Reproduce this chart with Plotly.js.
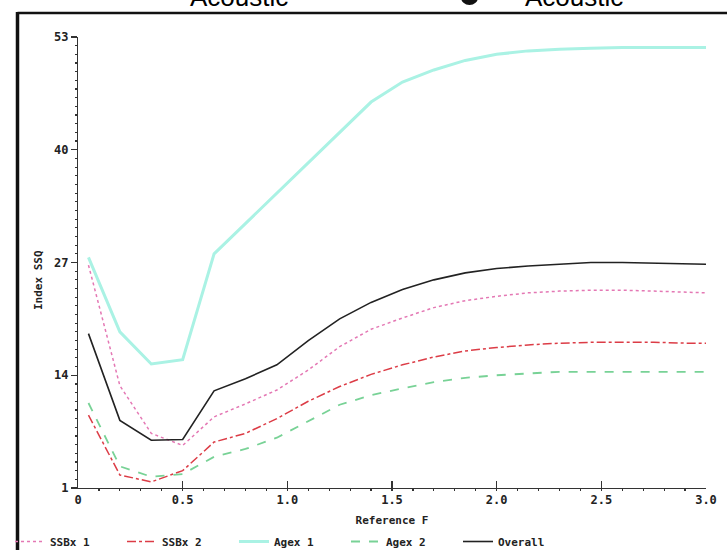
<!DOCTYPE html>
<html>
<head>
<meta charset="utf-8">
<script src="https://cdn.plot.ly/plotly-3.0.1.min.js"></script>
<style>html,body{margin:0;padding:0;background:#fff;}#chart{width:727px;height:550px;}</style>
</head>
<body>
<div id="chart"></div>
<script>
// Reference F values (x)
const refF = [0.05,0.2,0.35,0.5,0.65,0.8,0.95,1.1,1.25,1.4,1.55,1.7,1.85,2.0,2.15,2.3,2.45,2.6,2.75,2.9,3.0];
// Index SSQ series
const ssbx1 = [26.7,12.8,7.3,5.9,9.2,10.7,12.3,14.6,17.3,19.3,20.6,21.8,22.6,23.1,23.5,23.7,23.8,23.8,23.7,23.6,23.5];
const ssbx2 = [9.4,2.5,1.7,3.0,6.3,7.3,9.0,11.0,12.7,14.1,15.2,16.1,16.8,17.2,17.5,17.7,17.8,17.8,17.8,17.7,17.7];
const agex1 = [27.6,19.0,15.3,15.8,28.0,31.5,35.0,38.5,42.0,45.5,47.8,49.2,50.3,51.0,51.4,51.6,51.7,51.8,51.8,51.8,51.8];
const agex2 = [10.8,3.5,2.3,2.6,4.6,5.5,6.8,8.7,10.6,11.7,12.5,13.2,13.7,14.0,14.2,14.4,14.4,14.4,14.4,14.4,14.4];
const overall = [18.8,8.8,6.5,6.6,12.2,13.6,15.2,18.0,20.5,22.4,23.9,25.0,25.8,26.3,26.6,26.8,27.0,27.0,26.9,26.8,26.8];
const seriesNames = ["SSBx 1","SSBx 2","Agex 1","Agex 2","Overall"];
const xTickVals = [0,0.5,1.0,1.5,2.0,2.5,3.0];
const xTickText = ["0","0.5","1.0","1.5","2.0","2.5","3.0"];
const yTickVals = [1,14,27,40,53];
const yTickText = ["1","14","27","40","53"];

const monoFont = {family: "DejaVu Sans Mono", size: 11, color: "#222"};

const traces = [
  {x: refF, y: ssbx1, name: seriesNames[0], mode: "lines", line: {color: "rgb(228,120,180)", width: 1.5, dash: "dot"}},
  {x: refF, y: ssbx2, name: seriesNames[1], mode: "lines", line: {color: "rgb(220,60,70)", width: 1.5, dash: "dashdot"}},
  {x: refF, y: agex1, name: seriesNames[2], mode: "lines", line: {color: "rgb(170,242,228)", width: 3}},
  {x: refF, y: agex2, name: seriesNames[3], mode: "lines", line: {color: "rgb(120,210,150)", width: 1.8, dash: "dash"}},
  {x: refF, y: overall, name: seriesNames[4], mode: "lines", line: {color: "#222", width: 1.6}}
];

const L = 78, R = 21, T = 37, B = 62, W = 727, H = 550;
const pw = W - L - R, ph = H - T - B;
const px = v => (v - L) / pw;
const py = v => (H - B - v) / ph;

const layout = {
  width: W, height: H,
  margin: {l: L, r: R, t: T, b: B, pad: 0},
  paper_bgcolor: "#fff", plot_bgcolor: "#fff",
  showlegend: true,
  xaxis: {
    range: [0, 3], tickmode: "array", tickvals: xTickVals, ticktext: xTickText,
    ticks: "inside", ticklen: 7, tickwidth: 1.2, tickcolor: "#333",
    minor: {tickmode: "linear", tick0: 0, dtick: 0.1, ticks: "outside", ticklen: 2, tickcolor: "#333"},
    showline: true, linecolor: "#333", linewidth: 1.2, showgrid: false, zeroline: false,
    tickfont: {family: "DejaVu Sans Mono", size: 12, color: "#222", weight: "bold"},
    title: {text: "<b>Reference F</b>", font: monoFont, standoff: 10}
  },
  yaxis: {
    range: [1, 53], tickmode: "array", tickvals: yTickVals, ticktext: yTickText,
    ticks: "outside", ticklen: 6, tickwidth: 1.2, tickcolor: "#333",
    minor: {tickmode: "linear", tick0: 1, dtick: 1, ticks: "outside", ticklen: 2, tickcolor: "#333"},
    showline: true, linecolor: "#333", linewidth: 1.2, showgrid: false, zeroline: false,
    tickfont: {family: "DejaVu Sans Mono", size: 12, color: "#222", weight: "bold"},
    title: {text: ""}
  },
  legend: {
    orientation: "h", xref: "container", yref: "container",
    x: 10 / W, y: (H - 527) / H, xanchor: "left", yanchor: "top",
    font: {family: "DejaVu Sans Mono", size: 11, color: "#222", weight: "bold"},
    entrywidth: 67, entrywidthmode: "pixels", itemwidth: 30, bgcolor: "rgba(0,0,0,0)"
  },
  annotations: [
    {xref: "paper", yref: "paper", x: px(38), y: py(280), text: "<b>Index SSQ</b>", textangle: -90,
     showarrow: false, font: monoFont, xanchor: "center", yanchor: "middle"},
    {xref: "paper", yref: "paper", x: px(239), y: py(14), text: "Acoustic", showarrow: false,
     font: {family: "Liberation Sans", size: 26, color: "#000"}, xanchor: "center", yanchor: "bottom"},
    {xref: "paper", yref: "paper", x: px(574), y: py(14), text: "Acoustic", showarrow: false,
     font: {family: "Liberation Sans", size: 26, color: "#000"}, xanchor: "center", yanchor: "bottom"}
  ],
  shapes: [
    {type: "line", xref: "paper", yref: "paper", x0: px(17.5), x1: px(740), y0: py(13), y1: py(13), line: {color: "#111", width: 2.5}},
    {type: "line", xref: "paper", yref: "paper", x0: px(17.5), x1: px(17.5), y0: py(12), y1: py(560), line: {color: "#111", width: 3.5}},
    {type: "circle", xref: "paper", yref: "paper", x0: px(461), x1: px(478), y0: py(5), y1: py(-10), fillcolor: "#111", line: {width: 0}}
  ]
};

Plotly.newPlot("chart", traces, layout, {displayModeBar: false, staticPlot: true});
</script>
</body>
</html>
